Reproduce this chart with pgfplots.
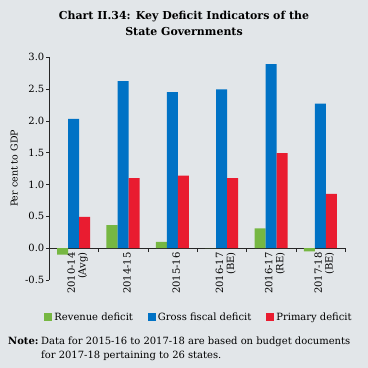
\documentclass[border=0pt]{standalone}
\usepackage{pgfplots}
\pgfplotsset{compat=1.18}
\usepackage{fontspec}
\setmainfont{DejaVu Serif}
\definecolor{bg}{RGB}{226,230,233}
\definecolor{cgreen}{RGB}{118,183,66}
\definecolor{cblue}{RGB}{0,114,197}
\definecolor{cred}{RGB}{233,28,48}
\begin{document}
\begin{tikzpicture}
\fill[bg] (0,0) rectangle (368bp,368bp);
\path[use as bounding box] (0,0) rectangle (368bp,368bp);
\node[anchor=base, font=\fontsize{11}{13}\selectfont\bfseries, inner sep=0pt] at (184bp,348bp) {Chart II.34: Key Deficit Indicators of the};
\node[anchor=base, font=\fontsize{11}{13}\selectfont\bfseries, inner sep=0pt] at (184bp,332bp) {State Governments};
\begin{axis}[
  at={(49bp,88bp)}, anchor=south west,
  scale only axis, width=296bp, height=223bp,
  xmin=-0.5, xmax=5.5, ymin=-0.5, ymax=3.0,
  axis y line=left, axis x line=middle,
  axis line style={-, black!85},
  tick align=outside,
  tick style={black!85},
  major tick length=3bp, minor tick length=4bp,
  ytick={-0.5,0,0.5,1,1.5,2,2.5,3},
  /pgf/number format/assume math mode=true,
  yticklabel style={/pgf/number format/fixed, /pgf/number format/fixed zerofill, /pgf/number format/precision=1, font=\fontsize{10}{11}\selectfont, inner sep=1.5bp},
  xtick={0,1,2,3,4,5},
  major x tick style={draw=none},
  minor xtick={0.5,1.5,2.5,3.5,4.5,5.5},
  xticklabels={{2010-14\\(Avg)},{2014-15},{2015-16},{2016-17\\(BE)},{2016-17\\(RE)},{2017-18\\(BE)}},
  xticklabel style={rotate=90, anchor=east, align=right, font=\fontsize{10}{11}\selectfont, inner sep=1bp, yshift=-4bp},
  ylabel={Per cent to GDP},
  ylabel style={at={(axis description cs:-0.118,0.5)}, anchor=center, font=\fontsize{9.5}{10}\selectfont},
  ybar, bar width=11bp,
  legend style={at={(0.507,-0.17)}, anchor=center, draw=none, fill=none, legend columns=-1, font=\fontsize{10}{11}\selectfont,
    /tikz/every even column/.append style={column sep=13bp}},
  legend image code/.code={\fill[#1] (0bp,-3.5bp) rectangle (8bp,4.5bp);},
]
\addplot[fill=cgreen, draw=none, bar shift=-11bp] coordinates {(0,-0.10) (1,0.36) (2,0.10) (3,0.0) (4,0.31) (5,-0.05)};
\addplot[fill=cblue, draw=none, bar shift=0bp] coordinates {(0,2.03) (1,2.62) (2,2.45) (3,2.49) (4,2.89) (5,2.27)};
\addplot[fill=cred, draw=none, bar shift=11bp] coordinates {(0,0.49) (1,1.10) (2,1.14) (3,1.10) (4,1.49) (5,0.85)};
\legend{Revenue deficit, Gross fiscal deficit, Primary deficit}
\end{axis}
\node[anchor=base west, font=\fontsize{10}{11}\selectfont\bfseries, inner sep=0pt] at (8bp,24bp) {Note:};
\node[anchor=base west, font=\fontsize{10}{11}\selectfont, inner sep=0pt] at (41bp,24bp) {Data for 2015-16 to 2017-18 are based on budget documents};
\node[anchor=base west, font=\fontsize{10}{11}\selectfont, inner sep=0pt] at (41bp,10bp) {for 2017-18 pertaining to 26 states.};
\end{tikzpicture}
\end{document}
